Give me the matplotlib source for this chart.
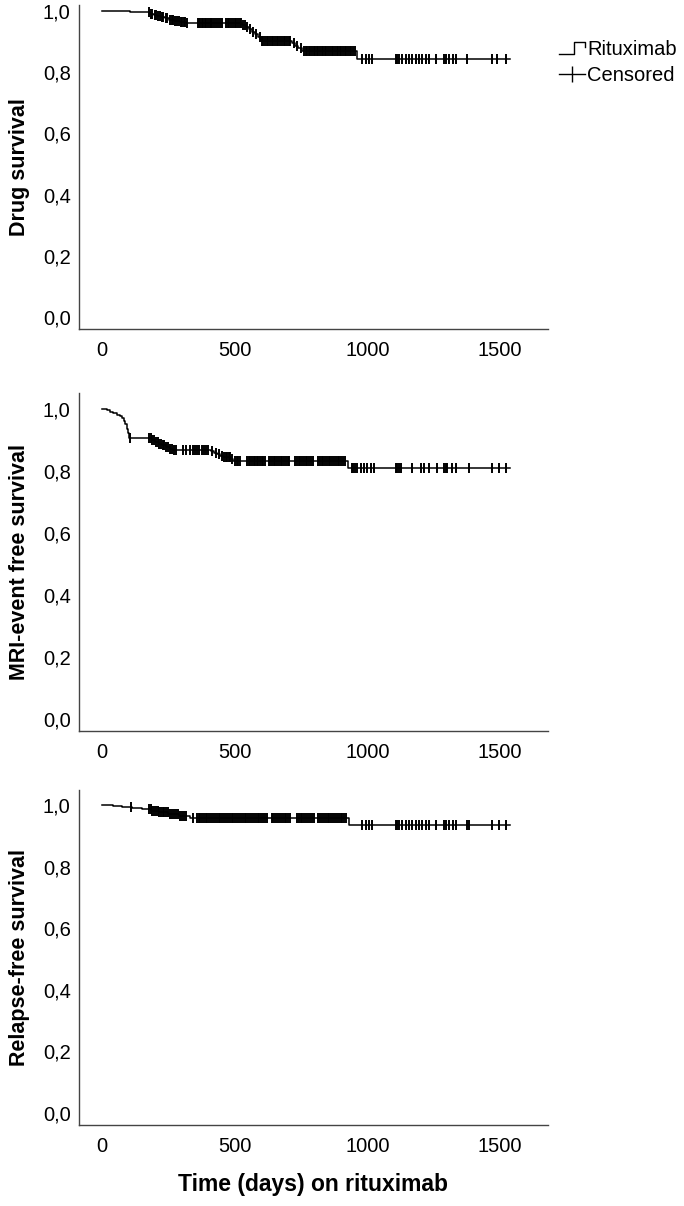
import matplotlib
matplotlib.use("Agg")
import matplotlib.pyplot as plt
from matplotlib.lines import Line2D
from matplotlib.legend_handler import HandlerBase
import numpy as np

plt.rcParams['font.family'] = ['Liberation Sans', 'DejaVu Sans']

# ---- data ------------------------------------------------------------
y_ticks = [0.0, 0.2, 0.4, 0.6, 0.8, 1.0]
y_tick_labels = ["0,0", "0,2", "0,4", "0,6", "0,8", "1,0"]
x_ticks = [0, 500, 1000, 1500]
x_tick_labels = ["0", "500", "1000", "1500"]

panel_labels = ["Drug survival", "MRI-event free survival", "Relapse-free survival"]
x_label = "Time (days) on rituximab"
legend_labels = ["Rituximab", "Censored"]

late_censor = [981, 994, 1006, 1019, 1107, 1113, 1121, 1132, 1145, 1157, 1170,
               1182, 1195, 1207, 1220, 1233, 1258, 1289, 1296, 1308, 1321, 1333,
               1377, 1471, 1490, 1521]
follow_up_end = 1538

# drug survival
drug_event_t = [105, 182, 196, 208, 221, 236, 252, 270, 292, 318, 528, 541, 553,
                564, 575, 586, 598, 716, 728, 740, 752, 961]
drug_event_s = [0.996, 0.992, 0.988, 0.984, 0.980, 0.976, 0.972, 0.968, 0.964,
                0.960, 0.955, 0.948, 0.940, 0.932, 0.924, 0.915, 0.903, 0.895,
                0.887, 0.879, 0.871, 0.843]
drug_censor = [178, 186, 190, 199, 204, 212, 217, 225, 231, 240, 246, 255, 262,
               268, 276, 281, 289, 296, 303, 309, 314, 320,
               362, 367, 371, 376, 382, 388, 393, 398, 405, 411, 416, 423, 430,
               436, 443, 452, 466,
               474, 480, 487, 493, 500, 506, 512, 519, 525, 533, 540, 548, 558,
               570, 582, 594,
               603, 608, 614, 620, 627, 633, 640, 646, 651, 658, 664, 671, 677,
               684, 690, 697, 703, 709, 722, 735, 748,
               762, 767, 773, 779, 785, 790, 797, 803, 809, 815, 822, 828, 834,
               840, 846, 852, 859, 865, 871, 877, 884, 890, 896, 902, 909, 915,
               921, 927, 934, 940, 946, 952] + late_censor

# MRI-event free survival
mri_event_t = [18, 30, 42, 55, 66, 75, 83, 88, 93, 97, 101, 188, 200, 213, 226,
               240, 255, 268, 410, 422, 434, 446, 457, 485, 495, 928]
mri_event_s = [0.995, 0.990, 0.985, 0.980, 0.975, 0.970, 0.960, 0.950, 0.935,
               0.920, 0.905, 0.899, 0.893, 0.887, 0.881, 0.876, 0.871, 0.867,
               0.862, 0.857, 0.852, 0.847, 0.843, 0.837, 0.831, 0.808]
mri_censor = [105, 178, 184, 190, 196, 203, 209, 215, 222, 228, 235, 242, 248,
              256, 262, 270, 278, 306, 318, 330, 342, 350, 358, 366, 375, 383,
              392, 400, 415, 428, 440, 452, 460, 466, 472, 478, 484, 490, 500,
              508, 514, 520, 548, 553, 559, 565, 571, 577, 583, 589, 596, 602,
              608, 615, 628, 634, 641, 647, 653, 660, 666, 673, 679, 686, 692,
              699, 706, 728, 734, 741, 747, 754, 761, 767, 774, 780, 787, 795,
              815, 821, 828, 834, 841, 847, 854, 861, 867, 874, 881, 888, 895,
              902, 909, 916, 941, 947, 953, 962, 975, 987, 1000, 1013, 1025,
              1107, 1113, 1119, 1126, 1170, 1201, 1214, 1233, 1264, 1289, 1295,
              1301, 1320, 1333, 1383, 1471, 1496, 1521]

# relapse-free survival
rel_event_t = [40, 75, 112, 150, 185, 215, 250, 290, 330, 932]
rel_event_s = [0.997, 0.994, 0.991, 0.987, 0.982, 0.977, 0.971, 0.966, 0.960,
               0.935]
rel_censor = [108, 178, 184, 190, 196, 203, 209, 215, 222, 228, 235, 242, 248,
              256, 262, 270, 278, 286, 294, 302, 310, 318, 342, 358, 364, 370,
              377, 383, 390, 397, 404, 411, 418, 425, 432, 439, 446, 452, 460,
              467, 474, 481, 488, 495, 502, 509, 516, 523, 530, 537, 544, 551,
              558, 565, 572, 579, 586, 593, 600, 607, 614, 621, 640, 646, 653,
              660, 667, 674, 681, 688, 695, 702, 709, 734, 741, 748, 755, 762,
              769, 776, 783, 790, 797, 815, 822, 829, 836, 843, 850, 857, 864,
              871, 878, 885, 892, 899, 906, 913, 920] + late_censor[:-3] + [1383, 1471, 1496, 1521]

curves = [(drug_event_t, drug_event_s, drug_censor),
          (mri_event_t, mri_event_s, mri_censor),
          (rel_event_t, rel_event_s, rel_censor)]


class StepHandler(HandlerBase):
    def create_artists(self, legend, orig_handle, xdescent, ydescent,
                       width, height, fontsize, trans):
        xs = np.array([0.0, 0.55, 0.55, 1.0, 1.0]) * width - xdescent
        ys = np.array([0.1, 0.1, 0.95, 0.95, 0.55]) * height - ydescent
        ln = Line2D(xs, ys, color='black', lw=1.0, transform=trans)
        return [ln]


fig = plt.figure(figsize=(6.84, 12.06), dpi=100)
left, width = 79 / 684, (548 - 79) / 684
boxes = [(5, 329), (393, 731), (790, 1125)]
ylims = [(-0.04, 1.02), (-0.04, 1.05), (-0.04, 1.05)]

axes = []
for i, ((top, bot), (et, es, ct)) in enumerate(zip(boxes, curves)):
    ax = fig.add_axes([left, 1 - bot / 1206, width, (bot - top) / 1206])
    t = np.array([0] + et + [follow_up_end])
    s = np.array([1.0] + es + [es[-1]])
    ax.step(t, s, where='post', color='black', lw=1.1)
    idx = np.searchsorted(t, ct, side='right') - 1
    ax.plot(ct, s[idx], linestyle='none', marker='|', markersize=6.5,
            markeredgewidth=1.4, color='black')
    ax.set_xlim(-87, 1681)
    ax.set_ylim(*ylims[i])
    ax.set_yticks(y_ticks)
    ax.set_yticklabels(y_tick_labels)
    ax.set_xticks(x_ticks)
    ax.set_xticklabels(x_tick_labels)
    ax.tick_params(axis='y', length=0, labelsize=14.5, pad=6)
    ax.tick_params(axis='x', length=0, labelsize=14.5, pad=9)
    for side in ['top', 'right']:
        ax.spines[side].set_visible(False)
    for side in ['left', 'bottom']:
        ax.spines[side].set_color('#444444')
        ax.spines[side].set_linewidth(1.0)
    ax.set_ylabel(panel_labels[i], fontsize=15.5, fontweight='bold')
    ax.yaxis.set_label_coords(-0.104, 0.5)
    axes.append(ax)

fig.text(313 / 684, 1 - 1185 / 1206, x_label, fontsize=16.5, fontweight='bold',
         ha='center', va='center')

h_step = Line2D([], [], color='black')
h_cens = Line2D([], [], color='black', lw=1.0, marker='|', markersize=11,
                markeredgewidth=1.0)
fig.legend([h_step, h_cens], legend_labels, loc='upper left',
           bbox_to_anchor=(541 / 684, 1 - 22 / 1206), frameon=False,
           fontsize=14.5, handlelength=1.3, handletextpad=0.1,
           labelspacing=0.35, handler_map={h_step: StepHandler()})

fig.savefig("out.png", dpi=100)
